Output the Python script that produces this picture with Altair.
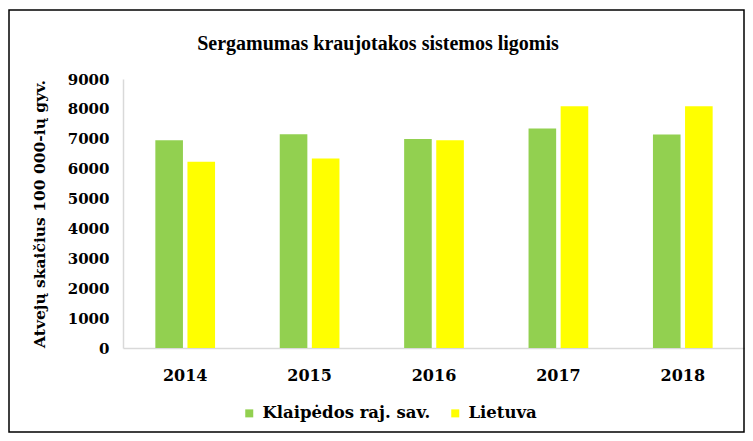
import altair as alt
import pandas as pd

years = ["2014", "2015", "2016", "2017", "2018"]
klaipeda = [6950, 7150, 6990, 7340, 7140]
lietuva = [6230, 6340, 6950, 8090, 8090]
series = ["Klaipėdos raj. sav.", "Lietuva"]
colors = ["#92D050", "#FFFF00"]
title_text = "Sergamumas kraujotakos sistemos ligomis"

rows = []
for i, y in enumerate(years):
    rows.append({"year": y, "series": series[0], "value": klaipeda[i]})
    rows.append({"year": y, "series": series[1], "value": lietuva[i]})
df = pd.DataFrame(rows)

FONT = "DejaVu Serif"
TFONT = "Liberation Serif"

bars = alt.Chart(df).mark_bar().encode(
    x=alt.X("year:N", title=None, sort=years,
            scale=alt.Scale(paddingInner=0.52, paddingOuter=0.26),
            axis=alt.Axis(labelAngle=0, ticks=False, domainColor="#D9D9D9", domainWidth=1.5,
                          labelFont=FONT, labelFontSize=16, labelFontWeight="bold",
                          labelColor="#000000", labelPadding=19)),
    xOffset=alt.XOffset("series:N", sort=series, scale=alt.Scale(paddingInner=0.14)),
    y=alt.Y("value:Q", title="Atvejų skaičius 100 000-ių gyv.",
            scale=alt.Scale(domain=[0, 9000], nice=False),
            axis=alt.Axis(values=list(range(0, 9001, 1000)), format="d", grid=False, ticks=False,
                          domainColor="#D9D9D9", domainWidth=1.5,
                          labelFont=FONT, labelFontSize=15, labelFontWeight="bold",
                          labelColor="#000000", labelPadding=14,
                          titleFont=FONT, titleFontSize=15.5, titleFontWeight="bold",
                          titleColor="#000000", titlePadding=20)),
    color=alt.Color("series:N", sort=series, title=None,
                    scale=alt.Scale(domain=series, range=colors),
                    legend=alt.Legend(orient="none", direction="horizontal",
                                      legendX=118, legendY=326,
                                      symbolType="square", symbolSize=64, symbolStrokeWidth=0,
                                      labelFont=FONT, labelFontSize=16.5, labelFontWeight="bold",
                                      labelColor="#000000", labelLimit=400,
                                      columnPadding=16, labelOffset=5)),
)

border = alt.Chart(pd.DataFrame({"a": [0]})).mark_rect(
    fill=None, stroke="#000000", strokeWidth=1.5, clip=False
).encode(
    x=alt.value(-114), x2=alt.value(621), y=alt.value(-69), y2=alt.value(353)
)

title = alt.Chart(pd.DataFrame({"t": [title_text]})).mark_text(
    font=TFONT, fontSize=20, fontWeight="bold", color="#000000",
    align="center", baseline="middle", clip=False
).encode(
    text="t:N", x=alt.value(255), y=alt.value(-35)
)

chart = alt.layer(border, title, bars).properties(
    width=622, height=269,
    autosize=alt.AutoSizeParams(type="none"),
    padding={"left": 115, "top": 71, "right": 0, "bottom": 85},
).configure_view(stroke=None)

chart.save("out.html", embed_options={"renderer": "svg", "actions": False})
